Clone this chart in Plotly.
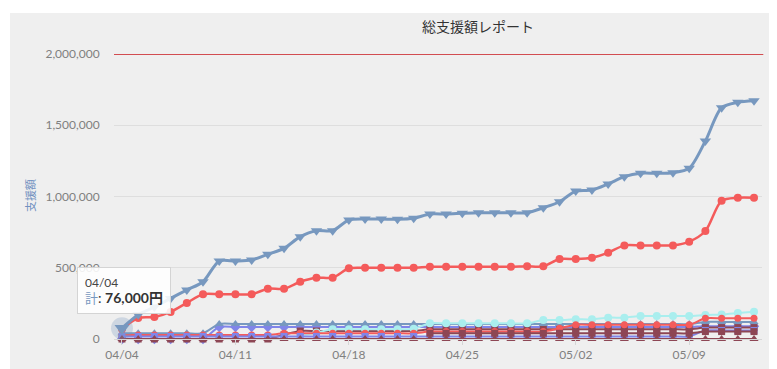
import pandas as pd
import plotly.graph_objects as go

# ---------------- data (values in thousands of yen) ----------------
UNIT = 1000
dates = list(pd.date_range("2021-04-04", "2021-05-13", freq="D"))
tick_labels_y = ["0", "500,000", "1,000,000", "1,500,000", "2,000,000"]
tick_values_y = [0, 500000, 1000000, 1500000, 2000000]
target = 2000000

total = [76, 170, 225, 285, 344, 402, 547, 547, 554, 594,
         636, 718, 760, 760, 835, 842, 842, 840, 847, 877,
         877, 882, 886, 886, 886, 886, 921, 963, 1038, 1045,
         1088, 1139, 1163, 1163, 1167, 1198, 1389, 1623, 1661, 1672]
red_main = [70, 147, 154, 190, 253, 314, 314, 314, 314, 353,
            353, 402, 430, 430, 496, 500, 500, 500, 500, 507,
            507, 507, 507, 507, 507, 510, 510, 561, 561, 570,
            606, 657, 657, 657, 657, 683, 758, 970, 991, 991]
blue_tri = [40, 40, 40, 40, 40, 40, 105, 105, 105, 105,
            105, 105, 105, 105, 105, 105, 105, 105, 105, 105,
            105, 105, 105, 105, 105, 105, 105, 105, 105, 105,
            105, 105, 105, 105, 105, 105, 120, 120, 120, 120]
lavender = [0, 0, 0, 0, 0, 0, 84, 84, 84, 84,
            84, 84, 84, 84, 84, 84, 84, 84, 84, 84,
            84, 84, 84, 84, 84, 84, 84, 84, 84, 84,
            84, 84, 84, 84, 84, 84, 90, 90, 90, 90]
cyan = [None, None, None, None, None, None, None, None, None, None,
        None, 20, 45, 68, 68, 68, 68, 68, 72, 110,
        110, 110, 110, 110, 110, 110, 133, 133, 138, 138,
        150, 150, 161, 161, 161, 161, 168, 172, 182, 192]
maroon_a = [0, 0, 0, 0, 0, 0, 0, 0, 0, 0,
            30, 56, 56, 56, 56, 56, 56, 56, 56, 68,
            68, 68, 68, 68, 68, 68, 68, 68, 68, 68,
            68, 68, 68, 68, 68, 68, 80, 80, 80, 80]
maroon_b = [None, None, None, None, None, None, None, None, None, None,
            None, None, None, None, None, None, None, None, None, 40,
            40, 40, 40, 40, 40, 40, 40, 40, 40, 40,
            40, 40, 40, 40, 40, 40, 52, 52, 52, 52]
red_small = [28, 28, 28, 28, 28, 28, 28, 28, 28, 28,
             40, 40, 40, 40, 40, 40, 40, 40, 40, 52,
             52, 52, 52, 52, 52, 52, 52, 75, 100, 100,
             100, 100, 100, 100, 100, 100, 145, 145, 145, 145]
purple = [18, 18, 18, 18, 18, 18, 18, 18, 18, 18,
          18, 18, 18, 18, 18, 18, 18, 18, 18, 18,
          18, 18, 18, 18, 18, 18, 18, 18, 18, 18,
          18, 18, 18, 18, 18, 18, 60, 60, 60, 60]
maroon_zero = [0] * 40

tooltip_date = "04/04"
tooltip_name = "計"
tooltip_value = "76,000円"


def yen(vals):
    return [None if v is None else v * UNIT for v in vals]


series = [
    ("red_main", red_main, "#f45b5b", "circle", 8, 2.5),
    ("lavender", lavender, "#8085e9", "diamond", 8, 2),
    ("maroon_a", maroon_a, "#8d4654", "square", 7, 2),
    ("blue_tri", blue_tri, "#7798BF", "triangle-up", 8, 2),
    ("計", total, "#7798BF", "triangle-down", 10, 3),
    ("cyan", cyan, "#aaeeee", "circle", 8, 2),
    ("red_small", red_small, "#f45b5b", "circle", 7, 2),
    ("purple", purple, "#8085e9", "square", 7, 2),
    ("maroon_b", maroon_b, "#8d4654", "square", 7, 2),
    ("maroon_zero", maroon_zero, "#8d4654", "triangle-up", 8, 2),
]

fig = go.Figure()
for name, vals, color, sym, msize, lw in series:
    fig.add_trace(go.Scatter(
        x=dates, y=yen(vals), name=name, mode="lines+markers",
        line=dict(color=color, width=lw, shape="spline", smoothing=0.8),
        marker=dict(color=color, symbol=sym, size=msize),
        cliponaxis=False, showlegend=False, hoverinfo="skip"))

# hovered point (halo + enlarged marker)
fig.add_trace(go.Scatter(
    x=[dates[0]], y=[total[0] * UNIT], mode="markers",
    marker=dict(color="rgba(119,152,191,0.28)", size=22, symbol="circle"),
    cliponaxis=False, showlegend=False, hoverinfo="skip"))
fig.add_trace(go.Scatter(
    x=[dates[0]], y=[total[0] * UNIT], mode="markers",
    marker=dict(color="#7798BF", size=13, symbol="triangle-down"),
    cliponaxis=False, showlegend=False, hoverinfo="skip"))

# ---------------- layout ----------------
# page body has an 8px margin, so the figure is drawn 8px in from the window edge
OFF = 8
W, H = 777 - OFF, 369 - OFF
L, R, T, B = 114 - OFF, 15, 54 - OFF, 30
pw, ph = W - L - R, H - T - B


def px_x(p):
    return (p - OFF - L) / pw


def px_y(p):
    return (H + OFF - B - p) / ph


half_day = pd.Timedelta(hours=11, minutes=50)
fig.update_layout(
    width=W, height=H,
    margin=dict(l=L, r=R, t=T, b=B, autoexpand=False),
    paper_bgcolor="white",
    plot_bgcolor="rgba(0,0,0,0)",
    font=dict(family="Lato, 'Noto Sans CJK JP', sans-serif", size=12, color="#808080"),
    title=dict(text="総支援額レポート", x=(478 - OFF) / W, xanchor="center",
               y=1 - (27 - OFF) / H, yanchor="middle",
               font=dict(family="'Noto Sans CJK JP', sans-serif", size=14, color="#333333")),
    xaxis=dict(type="date", range=[dates[0] - half_day, dates[-1] + half_day],
               tick0=dates[0], dtick=7 * 86400000, tickformat="%m/%d",
               showgrid=False, zeroline=False, showline=True, linecolor="#d6d6d6",
               ticks="outside", ticklen=5, tickcolor="#d6d6d6", automargin=False,
               tickfont=dict(size=12, color="#808080")),
    yaxis=dict(range=[0, 2000000], tickvals=tick_values_y, ticktext=tick_labels_y,
               showgrid=True, gridcolor="#dedede", gridwidth=1, zeroline=False,
               ticks="outside", ticklen=11, tickcolor="rgba(0,0,0,0)", automargin=False,
               tickfont=dict(size=12, color="#808080")),
    shapes=[
        dict(type="rect", xref="paper", yref="paper", layer="below",
             x0=px_x(10), x1=px_x(777), y0=px_y(369), y1=px_y(13),
             fillcolor="#efefef", line=dict(width=0)),
        dict(type="line", xref="paper", yref="y", x0=0, x1=1.002,
             y0=target, y1=target, line=dict(color="#c8171c", width=1.5)),
    ],
    annotations=[
        dict(x=px_x(30), y=px_y(196), xref="paper", yref="paper", text="支援額",
             textangle=-90, showarrow=False, xanchor="center", yanchor="middle",
             font=dict(family="'Noto Sans CJK JP', sans-serif", size=11, color="#7090c0")),
        dict(x=dates[0], y=total[0] * UNIT, xref="x", yref="y",
             text=(f"<span style='font-size:12px;color:#444'>{tooltip_date}</span><br>"
                   f"<span style='color:#7798BF;font-size:13px'>{tooltip_name}</span>"
                   f"<span style='font-size:14px;color:#333'>: <b>{tooltip_value}</b></span>"),
             showarrow=False, xanchor="center", yanchor="bottom", yshift=14, xshift=2,
             align="left", bgcolor="rgba(255,255,255,0.88)", bordercolor="#d4d4d4",
             borderwidth=1, borderpad=7,
             font=dict(family="Lato, 'Noto Sans CJK JP', sans-serif")),
    ],
)

fig.write_html("out.html")
